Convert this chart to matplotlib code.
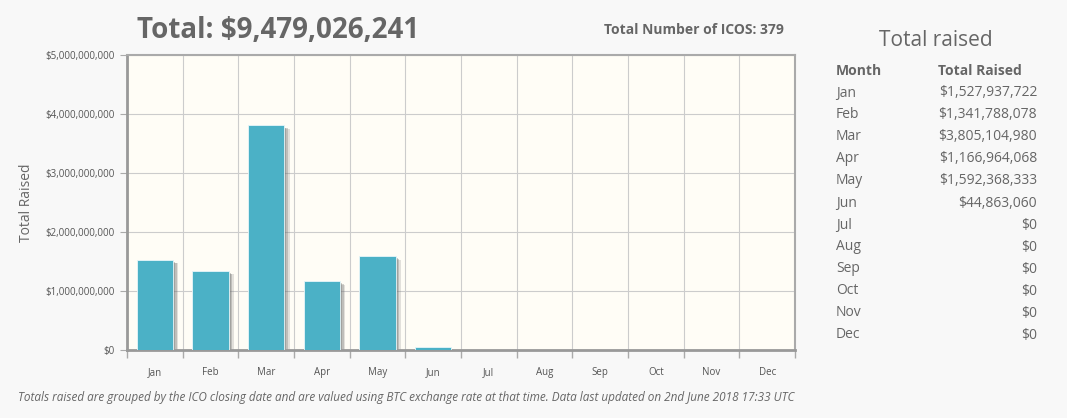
import matplotlib.pyplot as plt
from matplotlib.ticker import FuncFormatter, FixedLocator

months = ['Jan', 'Feb', 'Mar', 'Apr', 'May', 'Jun', 'Jul', 'Aug', 'Sep', 'Oct', 'Nov', 'Dec']
raised = [1527937722, 1341788078, 3805104980, 1166964068, 1592368333, 44863060,
          0, 0, 0, 0, 0, 0]
yticks = [0, 1e9, 2e9, 3e9, 4e9, 5e9]
total_text = 'Total: $9,479,026,241'
icos_text = 'Total Number of ICOS: 379'
footer = ('Totals raised are grouped by the ICO closing date and are valued using BTC '
          'exchange rate at that time. Data last updated on 2nd June 2018 17:33 UTC')

plt.rcParams['font.family'] = ['Open Sans', 'DejaVu Sans']
txt = '#666666'

fig = plt.figure(figsize=(10.67, 4.18), dpi=100, facecolor='#f8f8f8')
ax = fig.add_axes([127 / 1067, 68 / 418, 668 / 1067, 295 / 418])
ax.set_facecolor('#fffdf6')

x = list(range(len(months)))
w = 0.65
# soft shadow behind each bar, a few layers to fake a blur
for off, a in [(0.04, 0.35), (0.07, 0.3), (0.1, 0.2)]:
    ax.bar([i + off for i in x], [v - off * 4e8 if v > 0 else 0 for v in raised],
           width=w, bottom=-20e6, color='#6f6f6f', alpha=a, zorder=2, linewidth=0)
ax.bar(x, raised, width=w, color='#4bb1c6', edgecolor='#e8f6f9', linewidth=0.6, zorder=3)

ax.set_xlim(-0.5, 11.5)
ax.set_ylim(0, 5e9)
ax.set_yticks(yticks)
ax.yaxis.set_major_formatter(FuncFormatter(lambda v, p: '${:,.0f}'.format(v)))
ax.set_xticks(x)
ax.set_xticklabels(months)
ax.xaxis.set_minor_locator(FixedLocator([i - 0.5 for i in range(13)]))

ax.grid(True, axis='y', color='#cccccc', linewidth=0.8, zorder=0)
ax.grid(True, axis='x', which='minor', color='#cccccc', linewidth=0.8, zorder=0)
ax.set_axisbelow(True)

ax.tick_params(axis='x', which='major', length=0, labelsize=7, labelcolor='#555555', pad=12)
ax.tick_params(axis='x', which='minor', length=6, color='#aaaaaa', width=1)
ax.tick_params(axis='y', length=5, color='#aaaaaa', labelsize=7, labelcolor='#555555', pad=4)

for side in ['left', 'bottom']:
    ax.spines[side].set_color('#999999')
    ax.spines[side].set_linewidth(2)
for side in ['top', 'right']:
    ax.spines[side].set_color('#aaaaaa')
    ax.spines[side].set_linewidth(1.5)

ax.set_ylabel('Total Raised', color=txt, fontsize=10, labelpad=8)

fig.text(278 / 1067, 1 - 30 / 418, total_text, ha='center', va='center',
         fontsize=20, fontweight='bold', color=txt)
fig.text(784 / 1067, 1 - 30 / 418, icos_text, ha='right', va='center',
         fontsize=10, fontweight='bold', color=txt)
fig.text(18 / 1067, 1 - 398 / 418, footer, ha='left', va='center',
         fontsize=8.5, style='italic', color=txt)

# summary table on the right
fig.text(936 / 1067, 1 - 40 / 418, 'Total raised', ha='center', va='center',
         fontsize=15, color=txt)
fig.text(836 / 1067, 1 - 71 / 418, 'Month', ha='left', va='center',
         fontsize=10, fontweight='bold', color=txt)
fig.text(938 / 1067, 1 - 71 / 418, 'Total Raised', ha='left', va='center',
         fontsize=10, fontweight='bold', color=txt)
for i, (m, v) in enumerate(zip(months, raised)):
    yy = 1 - (93 + i * 22) / 418
    fig.text(836 / 1067, yy, m, ha='left', va='center', fontsize=10, color=txt)
    fig.text(1037 / 1067, yy, '${:,.0f}'.format(v), ha='right', va='center',
             fontsize=10, color=txt)

fig.savefig('out.png', dpi=100, facecolor=fig.get_facecolor())
